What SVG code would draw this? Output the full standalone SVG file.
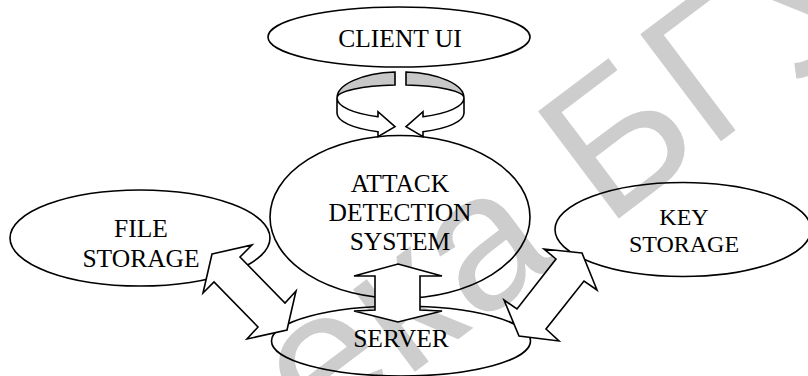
<svg xmlns="http://www.w3.org/2000/svg" width="808" height="376" viewBox="0 0 808 376">
  <style>
    .node { fill: none; stroke: #000; stroke-width: 1.6; }
    .label { font-family: "Liberation Serif", "Times New Roman", serif; font-size: 25.5px; fill: #000; text-anchor: middle; }
    .block { fill: #fff; stroke: #000; stroke-width: 1.6; stroke-linejoin: miter; }
    .shade { fill: #c8c8c8; stroke: #000; stroke-width: 1.6; }
    .mark { font-family: "Liberation Sans", Arial, sans-serif; font-size: 195px; fill: #cdcdcd; }
  </style>

  <!-- background stamp -->
  <text class="mark" transform="translate(318 445) rotate(-37)">ека БГУ</text>

  <g id="client-ui">
    <ellipse class="node" cx="399" cy="37" rx="131" ry="30"/>
    <text class="label" x="400" y="47">CLIENT UI</text>
  </g>

  <g id="attack-detection-system">
    <ellipse class="node" cx="400" cy="217" rx="130" ry="81.5"/>
    <text class="label" x="400" y="192">ATTACK</text>
    <text class="label" x="400" y="221">DETECTION</text>
    <text class="label" x="400" y="250">SYSTEM</text>
  </g>

  <g id="file-storage">
    <ellipse class="node" cx="140" cy="238" rx="130" ry="48"/>
    <text class="label" x="141" y="237">FILE</text>
    <text class="label" x="141" y="267">STORAGE</text>
  </g>

  <g id="key-storage">
    <ellipse class="node" cx="683" cy="229.5" rx="128" ry="47"/>
    <text class="label" x="684" y="225" style="font-size:24px">KEY</text>
    <text class="label" x="684" y="252" style="font-size:24px">STORAGE</text>
  </g>

  <g id="server">
    <ellipse class="node" cx="401" cy="341" rx="129.5" ry="35"/>
    <text class="label" x="401" y="347">SERVER</text>
  </g>

  <g id="connectors">
    <!-- circular exchange between client UI and detection system -->
    <path class="shade" d="M395,72 A63.5 26 0 0 0 337,98 A63.5 13 0 0 1 395,85 Z"/>
    <path class="shade" d="M406,72 A63.5 26 0 0 1 464,98 A63.5 13 0 0 0 406,85 Z"/>
    <path class="block" d="M337,98 L337,113 A63.5 20 0 0 0 378,131.7 L378,136.7 L395,126.7 L378,111.7 L378,116.7 A63.5 20 0 0 1 337,98 Z"/>
    <path class="block" d="M464,98 L464,113 A63.5 20 0 0 1 423,131.7 L423,136.7 L406,126.7 L423,111.7 L423,116.7 A63.5 20 0 0 0 464,98 Z"/>

    <!-- file storage <-> server -->
    <polygon class="block" points="212,254 252,245 240,257 285,303 296,291 287,330 247,339 258,327 214,282 203,293"/>

    <!-- detection system <-> server -->
    <polygon class="block" points="398,264 442,276 420,276 420,310 442,311 398,322 354,311 375,310 375,276 354,276"/>

    <!-- server <-> key storage -->
    <polygon class="block" points="582,253 544,249 556,259 517,309 504,300 519,336 559,341 546,329 584,281 597,290"/>
  </g>
</svg>
